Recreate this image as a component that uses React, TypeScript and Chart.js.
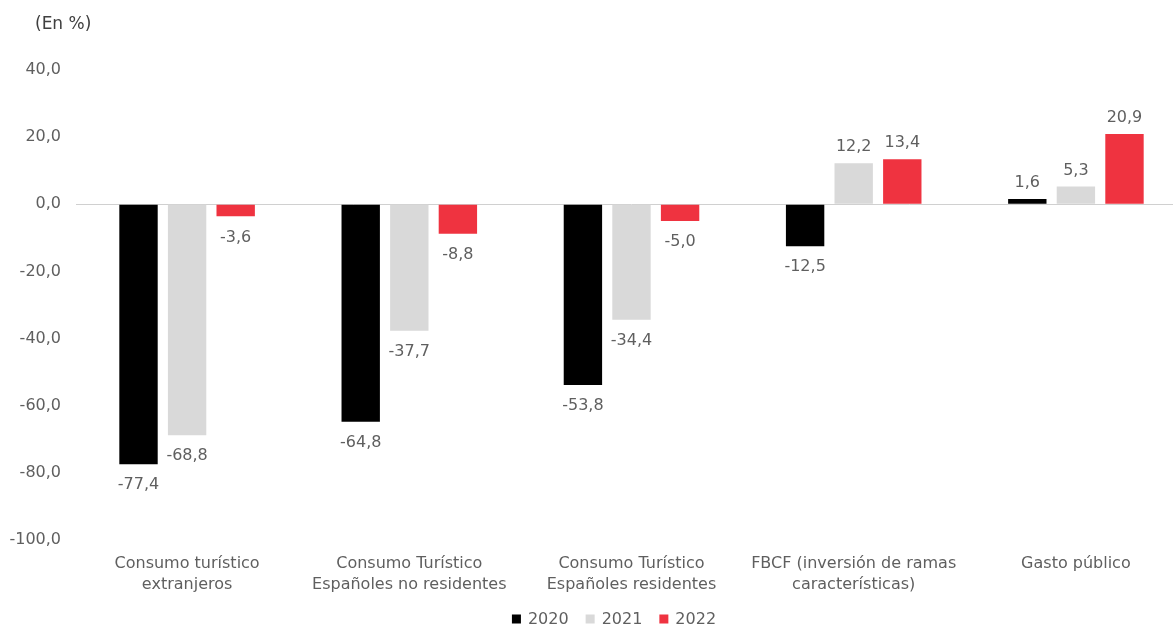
import React, { useEffect, useRef } from "react";
import { Chart, registerables } from "chart.js";

Chart.register(...registerables);

const categories: (string | string[])[] = [
  ["Consumo turístico", "extranjeros"],
  ["Consumo Turístico", "Españoles no residentes"],
  ["Consumo Turístico", "Españoles residentes"],
  ["FBCF (inversión de ramas", "características)"],
  "Gasto público",
];
const seriesNames = ["2020", "2021", "2022"];
const values2020 = [-77.4, -64.8, -53.8, -12.5, 1.6];
const values2021 = [-68.8, -37.7, -34.4, 12.2, 5.3];
const values2022 = [-3.6, -8.8, -5.0, 13.4, 20.9];
const seriesColors = ["#000000", "#D9D9D9", "#EF3340"];
const yMin = -100;
const yMax = 40;
const yStep = 20;
const axisTitle = "(En %)";

const FONT = "'DejaVu Sans', sans-serif";
const TEXT = "#5f5f5f";

const fmt = (v: number) => v.toFixed(1).replace(".", ",");

const overlayPlugin = {
  id: "overlay",
  afterDatasetsDraw(chart: any) {
    const ctx = chart.ctx;
    ctx.save();
    ctx.font = `16px ${FONT}`;
    ctx.fillStyle = TEXT;
    ctx.textAlign = "center";
    chart.data.datasets.forEach((ds: any, di: number) => {
      const meta = chart.getDatasetMeta(di);
      meta.data.forEach((bar: any, i: number) => {
        const v = ds.data[i] as number;
        if (v >= 0) {
          ctx.textBaseline = "bottom";
          ctx.fillText(fmt(v), bar.x, bar.y - 8);
        } else {
          ctx.textBaseline = "top";
          ctx.fillText(fmt(v), bar.x, bar.y + 13);
        }
      });
    });
    ctx.restore();
  },
  afterDraw(chart: any) {
    const ctx = chart.ctx;
    ctx.save();
    // axis title
    ctx.font = `17px ${FONT}`;
    ctx.fillStyle = "#404040";
    ctx.textAlign = "left";
    ctx.textBaseline = "middle";
    ctx.fillText(axisTitle, 35, 25);
    // legend
    ctx.font = `16px ${FONT}`;
    const box = 9;
    const gap = 7;
    const itemGap = 17;
    const widths = chart.data.datasets.map(
      (ds: any) => box + gap + ctx.measureText(ds.label).width
    );
    const total =
      widths.reduce((a: number, b: number) => a + b, 0) +
      itemGap * (widths.length - 1);
    let x = 614 - total / 2;
    const cy = 619;
    chart.data.datasets.forEach((ds: any, i: number) => {
      ctx.fillStyle = ds.backgroundColor;
      ctx.fillRect(x, cy - box / 2, box, box);
      ctx.fillStyle = TEXT;
      ctx.textBaseline = "middle";
      ctx.fillText(ds.label, x + box + gap, cy + 1);
      x += widths[i] + itemGap;
    });
    ctx.restore();
  },
};

export default function App() {
  const ref = useRef<HTMLCanvasElement>(null);

  useEffect(() => {
    if (!ref.current) return;
    const seriesValues = [values2020, values2021, values2022];
    const chart = new Chart(ref.current, {
      type: "bar",
      data: {
        labels: categories,
        datasets: seriesNames.map((name, i) => ({
          label: name,
          data: seriesValues[i],
          backgroundColor: seriesColors[i],
          borderWidth: 0,
          barPercentage: 0.79,
          categoryPercentage: 0.656,
        })),
      },
      options: {
        animation: false,
        responsive: true,
        maintainAspectRatio: false,
        layout: { padding: { top: 70, left: 0, right: 0, bottom: 0 } },
        plugins: {
          legend: { display: false },
          tooltip: { enabled: false },
          title: { display: false },
        },
        scales: {
          x: {
            grid: { display: false, drawTicks: false },
            border: { display: false },
            ticks: {
              color: TEXT,
              font: { family: FONT, size: 16, lineHeight: 1.32 },
              padding: 13,
              maxRotation: 0,
              minRotation: 0,
              autoSkip: false,
            },
            afterFit: (scale: any) => {
              scale.height = 87;
            },
          },
          y: {
            min: yMin,
            max: yMax,
            grid: {
              drawTicks: false,
              color: (c: any) =>
                c.tick && c.tick.value === 0 ? "#D0D0D0" : "rgba(0,0,0,0)",
              lineWidth: 1,
            },
            border: { display: false },
            ticks: {
              stepSize: yStep,
              color: TEXT,
              font: { family: FONT, size: 16 },
              padding: 15,
              callback: (v: any) => fmt(Number(v)),
            },
            afterFit: (scale: any) => {
              scale.width = 76;
            },
          },
        },
      },
      plugins: [overlayPlugin],
    });
    return () => chart.destroy();
  }, []);

  return (
    <div
      style={{
        position: "fixed",
        left: 0,
        top: 0,
        width: 1173,
        height: 627,
        overflow: "hidden",
        background: "#ffffff",
      }}
    >
      <div style={{ position: "relative", width: 1187, height: 627 }}>
        <canvas ref={ref} />
      </div>
    </div>
  );
}
